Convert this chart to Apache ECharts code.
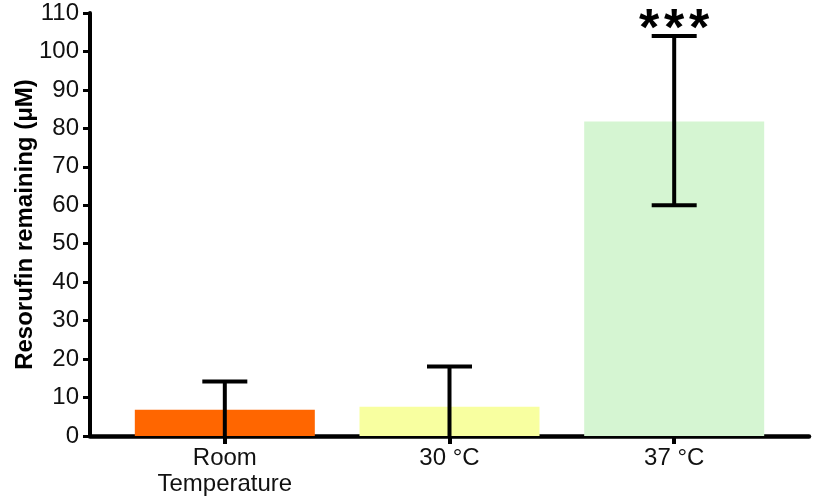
<!DOCTYPE html>
<html>
<head>
<meta charset="utf-8">
<script src="https://cdn.jsdelivr.net/npm/echarts@6/dist/echarts.min.js"></script>
<style>
  html, body { margin: 0; padding: 0; background: #ffffff; }
  #chart { width: 814px; height: 504px; }
</style>
</head>
<body>
<div id="chart"></div>
<script>
// data
const categories = ['Room\nTemperature', '30 °C', '37 °C'];
const means = [6.8, 7.6, 81.8];
const errHigh = [14.2, 18.1, 104.0];
const errLow = [0, 0, 60.0];
const significance = ['', '', '***'];
const barColors = ['#ff6600', '#f8ffa0', '#d5f5d2'];
const yTicks = [0, 10, 20, 30, 40, 50, 60, 70, 80, 90, 100, 110];

const font = "'Liberation Sans', Arial, sans-serif";
const positions = categories.map((c, i) => i);

const chart = echarts.init(document.getElementById('chart'), null, { renderer: 'canvas' });

const option = {
  animation: false,
  backgroundColor: '#ffffff',
  grid: { left: 90, right: 5, top: 13, bottom: 68, outerBoundsMode: 'none', containLabel: false },
  xAxis: {
    type: 'value',
    min: -0.6,
    max: 2.6,
    splitLine: { show: false },
    axisLine: { show: true, onZero: false, lineStyle: { color: '#000', width: 4.5 } },
    axisTick: { show: true, customValues: positions, length: 8, lineStyle: { color: '#000', width: 4 } },
    axisLabel: {
      customValues: positions,
      formatter: v => categories[Math.round(v)],
      color: '#111',
      fontFamily: font,
      fontSize: 24,
      lineHeight: 26,
      margin: 9
    }
  },
  yAxis: {
    type: 'value',
    min: yTicks[0],
    max: yTicks[yTicks.length - 1],
    interval: 10,
    name: 'Resorufin remaining (μM)',
    nameLocation: 'middle',
    nameGap: 53,
    nameMoveOverlap: false,
    nameTextStyle: { color: '#000', fontFamily: font, fontSize: 24, fontWeight: 'bold' },
    splitLine: { show: false },
    axisLine: { show: true, onZero: false, lineStyle: { color: '#000', width: 4 } },
    axisTick: { show: true, length: 7, lineStyle: { color: '#000', width: 3 } },
    axisLabel: { color: '#111', fontFamily: font, fontSize: 24, margin: 11 }
  },
  series: [
    {
      type: 'bar',
      barWidth: 180,
      data: means.map((m, i) => ({ value: [i, m], itemStyle: { color: barColors[i] } })),
      z: 2
    },
    {
      type: 'custom',
      z: 3,
      data: means.map((m, i) => [i, errLow[i], errHigh[i]]),
      renderItem: function (params, api) {
        const x = api.value(0);
        const low = api.value(1);
        const lo = api.coord([x, low]);
        const hi = api.coord([x, api.value(2)]);
        const half = 22.5;
        const style = { stroke: '#000', lineWidth: 4 };
        const children = [
          { type: 'line', shape: { x1: hi[0], y1: hi[1], x2: lo[0], y2: lo[1] }, style: style },
          { type: 'line', shape: { x1: hi[0] - half, y1: hi[1], x2: hi[0] + half, y2: hi[1] }, style: style }
        ];
        if (low > 0) {
          children.push({ type: 'line', shape: { x1: lo[0] - half, y1: lo[1], x2: lo[0] + half, y2: lo[1] }, style: style });
        }
        const sig = significance[params.dataIndex];
        for (let k = 0; k < sig.length; k++) {
          children.push({
            type: 'text',
            style: {
              text: sig[k],
              x: hi[0] + (k - (sig.length - 1) / 2) * 25,
              y: hi[1] - 31,
              align: 'center',
              verticalAlign: 'top',
              fill: '#000',
              font: 'bold 52px ' + font
            }
          });
        }
        return { type: 'group', children: children };
      }
    }
  ]
};

chart.setOption(option);
window.addEventListener('resize', () => chart.resize());
</script>
</body>
</html>
